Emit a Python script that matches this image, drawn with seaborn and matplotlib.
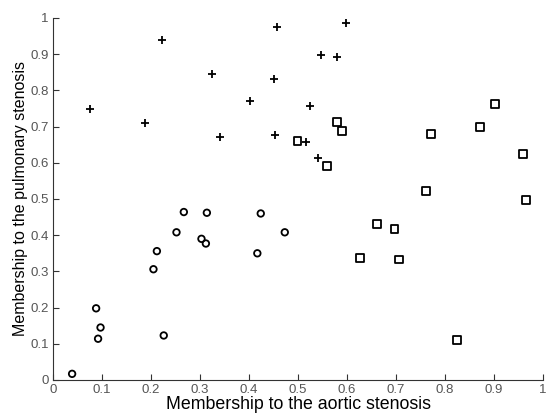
import matplotlib
matplotlib.use("Agg")
import matplotlib.pyplot as plt
import seaborn as sns
import pandas as pd

# Data
plus_x = [0.076, 0.188, 0.223, 0.324, 0.341, 0.402, 0.450, 0.453, 0.457, 0.598, 0.546, 0.579, 0.525, 0.516, 0.540]
plus_y = [0.749, 0.709, 0.939, 0.846, 0.672, 0.771, 0.831, 0.677, 0.974, 0.986, 0.897, 0.892, 0.758, 0.658, 0.612]

square_x = [0.499, 0.580, 0.589, 0.559, 0.772, 0.872, 0.902, 0.960, 0.761, 0.965, 0.662, 0.697, 0.627, 0.706, 0.824]
square_y = [0.661, 0.712, 0.688, 0.592, 0.680, 0.700, 0.762, 0.624, 0.522, 0.498, 0.431, 0.417, 0.337, 0.333, 0.110]

circle_x = [0.039, 0.088, 0.097, 0.092, 0.205, 0.212, 0.226, 0.252, 0.267, 0.303, 0.312, 0.314, 0.417, 0.424, 0.473]
circle_y = [0.017, 0.198, 0.145, 0.114, 0.306, 0.356, 0.123, 0.408, 0.464, 0.390, 0.377, 0.462, 0.350, 0.460, 0.408]

x_ticks = [0, 0.1, 0.2, 0.3, 0.4, 0.5, 0.6, 0.7, 0.8, 0.9, 1]
y_ticks = [0, 0.1, 0.2, 0.3, 0.4, 0.5, 0.6, 0.7, 0.8, 0.9, 1]
tick_labels = ["0", "0.1", "0.2", "0.3", "0.4", "0.5", "0.6", "0.7", "0.8", "0.9", "1"]

sns.set_style("white")
plt.rcParams['font.family'] = ['Liberation Sans', 'DejaVu Sans']

fig = plt.figure(figsize=(5.49, 4.15), dpi=100)
ax = fig.add_axes([53/549, 1 - 380/415, 490/549, 362/415])

df_p = pd.DataFrame({"x": plus_x, "y": plus_y})
df_s = pd.DataFrame({"x": square_x, "y": square_y})
df_c = pd.DataFrame({"x": circle_x, "y": circle_y})

sns.scatterplot(data=df_p, x="x", y="y", marker="+", s=40, color="black", linewidth=1.3, ax=ax)
sns.scatterplot(data=df_s, x="x", y="y", marker="s", s=32, facecolors="none", edgecolor="black", linewidth=1.3, ax=ax)
sns.scatterplot(data=df_c, x="x", y="y", marker="o", s=22, facecolors="none", edgecolor="black", linewidth=1.3, ax=ax)

ax.set_xlim(0, 1)
ax.set_ylim(0, 1)
ax.set_xticks(x_ticks)
ax.set_yticks(y_ticks)
ax.set_xticklabels(tick_labels)
ax.set_yticklabels(tick_labels)
ax.tick_params(axis="both", direction="in", length=4, width=0.8, color="#333333",
               labelsize=9.5, labelcolor="#555555", pad=3, bottom=True, left=True)
for side in ["top", "right"]:
    ax.spines[side].set_visible(False)
for side in ["left", "bottom"]:
    ax.spines[side].set_color("#333333")
    ax.spines[side].set_linewidth(0.8)

ax.set_xlabel("Membership to the aortic stenosis", fontsize=12.8, color="black", labelpad=0)
ax.set_ylabel("Membership to the pulmonary stenosis", fontsize=11.5, color="black", labelpad=2)

fig.savefig("out.png", dpi=100)
